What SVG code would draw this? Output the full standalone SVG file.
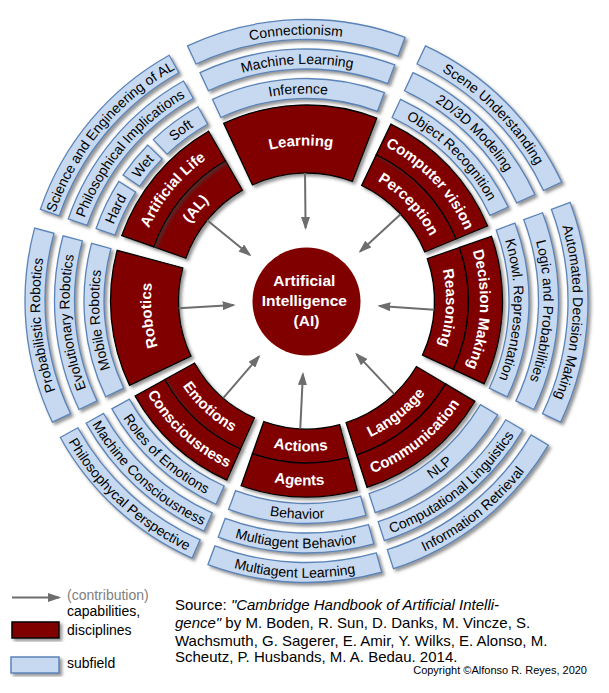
<svg xmlns="http://www.w3.org/2000/svg" xmlns:xlink="http://www.w3.org/1999/xlink" width="609" height="693" viewBox="0 0 609 693">
<style>
.r{fill:#800000;stroke:#000;stroke-width:1.3;filter:url(#sh)}
.b{fill:#c6d9f0;stroke:#5b83b7;stroke-width:1.3;filter:url(#sh)}
.rt{font-family:"Liberation Sans",Arial,sans-serif;font-weight:bold;font-size:15px;fill:#fff}
.bt{font-family:"Liberation Sans",Arial,sans-serif;font-size:14px;fill:#000}
.ar{stroke:#6d6d6d;stroke-width:2;fill:none;marker-end:url(#ah)}
.lg{font-family:"Liberation Sans",Arial,sans-serif;font-size:14px;fill:#000}
</style>
<defs>
<filter id="sh" x="-20%" y="-20%" width="140%" height="140%">
<feDropShadow dx="2.5" dy="2.5" stdDeviation="1.6" flood-color="#404040" flood-opacity="0.55"/>
</filter>
<marker id="ah" viewBox="0 0 13 9" refX="11" refY="4.5" markerWidth="13" markerHeight="9" markerUnits="userSpaceOnUse" orient="auto">
<path d="M0,0 L13,4.5 L0,9 Z" fill="#6d6d6d"/>
</marker>
<path id="t-learning" d="M240.79,160.07 A155.5,155.5 0 0 1 362.23,155.83"/>
<path id="t-cv" d="M381.24,144.31 A173.6,173.6 0 0 1 466.89,234.56"/>
<path id="t-perc" d="M366.60,175.00 A139.6,139.6 0 0 1 435.48,247.58"/>
<path id="t-dm" d="M470.34,243.63 A173.6,173.6 0 0 1 463.83,374.36"/>
<path id="t-reas" d="M438.25,254.86 A139.6,139.6 0 0 1 433.02,359.99"/>
<path id="t-comm" d="M363.48,476.38 A184.4,184.4 0 0 0 464.90,395.41"/>
<path id="t-lang" d="M352.97,444.05 A150.4,150.4 0 0 0 435.69,378.00"/>
<path id="t-agents" d="M244.95,474.82 A184.4,184.4 0 0 0 354.22,479.11"/>
<path id="t-actions" d="M256.30,442.77 A150.4,150.4 0 0 0 345.42,446.27"/>
<path id="t-cons" d="M145.22,390.40 A184.4,184.4 0 0 0 231.50,469.45"/>
<path id="t-emo" d="M174.96,373.91 A150.4,150.4 0 0 0 245.33,438.39"/>
<path id="t-rob" d="M166.15,367.94 A155.5,155.5 0 0 1 156.30,260.76"/>
<path id="t-al" d="M142.86,243.05 A173.6,173.6 0 0 1 219.70,150.66"/>
<path id="t-al2" d="M174.91,254.40 A139.6,139.6 0 0 1 236.70,180.11"/>
<path id="t-inf" d="M218.81,112.94 A207.5,207.5 0 0 1 379.17,106.63"/>
<path id="t-ml" d="M206.34,86.21 A237,237 0 0 1 389.50,79.00"/>
<path id="t-conn" d="M193.88,59.47 A266.5,266.5 0 0 1 399.83,51.37"/>
<path id="t-or" d="M394.19,112.94 A207.5,207.5 0 0 1 494.56,213.31"/>
<path id="t-mod" d="M406.66,86.21 A237,237 0 0 1 521.29,200.84"/>
<path id="t-scene" d="M419.12,59.47 A266.5,266.5 0 0 1 548.03,188.38"/>
<path id="t-kn" d="M500.87,228.33 A207.5,207.5 0 0 1 493.79,390.33"/>
<path id="t-lg" d="M528.50,218.00 A237,237 0 0 1 520.42,403.03"/>
<path id="t-au" d="M556.13,207.67 A266.5,266.5 0 0 1 547.04,415.73"/>
<path id="t-nlp" d="M373.77,508.05 A217.7,217.7 0 0 0 493.50,412.46"/>
<path id="t-cl" d="M382.88,536.11 A247.2,247.2 0 0 0 518.84,427.57"/>
<path id="t-ir" d="M392.00,564.17 A276.7,276.7 0 0 0 544.19,442.67"/>
<path id="t-beh" d="M230.26,504.92 A217.7,217.7 0 0 0 364.67,510.77"/>
<path id="t-mab" d="M219.93,532.55 A247.2,247.2 0 0 0 372.55,539.20"/>
<path id="t-mal" d="M209.60,560.19 A276.7,276.7 0 0 0 380.43,567.63"/>
<path id="t-roles" d="M116.10,406.54 A217.7,217.7 0 0 0 217.96,499.87"/>
<path id="t-mc" d="M90.30,420.84 A247.2,247.2 0 0 0 205.96,526.82"/>
<path id="t-pp" d="M64.50,435.14 A276.7,276.7 0 0 0 193.97,553.77"/>
<path id="t-mob" d="M119.21,390.33 A207.5,207.5 0 0 1 106.08,247.30"/>
<path id="t-evo" d="M92.58,403.03 A237,237 0 0 1 77.58,239.66"/>
<path id="t-prob" d="M65.96,415.73 A266.5,266.5 0 0 1 49.09,232.03"/>
<path id="t-hard" d="M110.31,233.44 A207.5,207.5 0 0 1 131.49,189.51"/>
<path id="t-wet" d="M135.50,183.47 A207.5,207.5 0 0 1 158.49,155.56"/>
<path id="t-soft" d="M163.66,150.48 A207.5,207.5 0 0 1 205.26,119.87"/>
<path id="t-pi" d="M82.42,223.83 A237,237 0 0 1 190.87,94.12"/>
<path id="t-se" d="M51.65,223.08 A266.5,266.5 0 0 1 184.68,63.97"/>
</defs>

<rect width="609" height="693" fill="#fff"/>

<g id="learning"><path class="r" d="M223.67,123.37 A196,196 0 0 1 376.75,118.01 L352.38,181.50 A128,128 0 0 0 252.41,184.99 Z"/>
<text class="rt"><textPath href="#t-learning" startOffset="50%" text-anchor="middle">Learning</textPath></text></g>

<g id="perception"><path class="r" d="M376.24,154.78 A162,162 0 0 1 456.17,239.00 L424.76,252.01 A128,128 0 0 0 361.60,185.47 Z"/>
<text class="rt"><textPath href="#t-perc" startOffset="50%" text-anchor="middle">Perception</textPath></text></g>
<g id="computer-vision"><path class="r" d="M390.88,124.09 A196,196 0 0 1 487.58,225.99 L456.17,239.00 A162,162 0 0 0 376.24,154.78 Z"/>
<text class="rt"><textPath href="#t-cv" startOffset="50%" text-anchor="middle">Computer vision</textPath></text></g>

<g id="reasoning"><path class="r" d="M459.40,247.46 A162,162 0 0 1 453.32,369.46 L422.51,355.09 A128,128 0 0 0 427.31,258.70 Z"/>
<text class="rt"><textPath href="#t-reas" startOffset="50%" text-anchor="middle">Reasoning</textPath></text></g>
<g id="decision-making"><path class="r" d="M491.48,236.22 A196,196 0 0 1 484.13,383.83 L453.32,369.46 A162,162 0 0 0 459.40,247.46 Z"/>
<text class="rt"><textPath href="#t-dm" startOffset="50%" text-anchor="middle">Decision Making</textPath></text></g>

<g id="language"><path class="r" d="M445.66,383.94 A162,162 0 0 1 356.56,455.08 L346.05,422.74 A128,128 0 0 0 416.45,366.54 Z"/>
<text class="rt"><textPath href="#t-lang" startOffset="50%" text-anchor="middle">Language</textPath></text></g>
<g id="communication"><path class="r" d="M474.86,401.35 A196,196 0 0 1 367.06,487.42 L356.56,455.08 A162,162 0 0 0 445.66,383.94 Z"/>
<text class="rt"><textPath href="#t-comm" startOffset="50%" text-anchor="middle">Communication</textPath></text></g>

<g id="actions"><path class="r" d="M348.43,457.48 A162,162 0 0 1 252.42,453.70 L263.77,421.65 A128,128 0 0 0 339.63,424.64 Z"/>
<text class="rt"><textPath href="#t-actions" startOffset="50%" text-anchor="middle">Actions</textPath></text></g>
<g id="agents"><path class="r" d="M357.22,490.32 A196,196 0 0 1 241.08,485.75 L252.42,453.70 A162,162 0 0 0 348.43,457.48 Z"/>
<text class="rt"><textPath href="#t-agents" startOffset="50%" text-anchor="middle">Agents</textPath></text></g>

<g id="emotions"><path class="r" d="M240.61,448.99 A162,162 0 0 1 164.81,379.54 L194.55,363.05 A128,128 0 0 0 254.44,417.93 Z"/>
<text class="rt"><textPath href="#t-emo" startOffset="50%" text-anchor="middle">Emotions</textPath></text></g>
<g id="consciousness"><path class="r" d="M226.79,480.05 A196,196 0 0 1 135.08,396.02 L164.81,379.54 A162,162 0 0 0 240.61,448.99 Z"/>
<text class="rt"><textPath href="#t-cons" startOffset="50%" text-anchor="middle">Consciousness</textPath></text></g>

<g id="robotics"><path class="r" d="M129.59,385.38 A196,196 0 0 1 117.18,250.28 L182.86,267.87 A128,128 0 0 0 190.97,356.10 Z"/>
<text class="rt"><textPath href="#t-rob" startOffset="50%" text-anchor="middle">Robotics</textPath></text></g>

<g id="al"><path class="r" d="M153.80,246.92 A162,162 0 0 1 225.50,160.71 L242.50,190.15 A128,128 0 0 0 185.85,258.27 Z"/>
<text class="rt"><textPath href="#t-al2" startOffset="50%" text-anchor="middle">(AL)</textPath></text></g>
<g id="artificial-life"><path class="r" d="M121.75,235.58 A196,196 0 0 1 208.50,131.26 L225.50,160.71 A162,162 0 0 0 153.80,246.92 Z"/>
<text class="rt"><textPath href="#t-al" startOffset="50%" text-anchor="middle">Artificial Life</textPath></text></g>

<g id="inference"><path class="b" d="M212.47,99.35 A222.5,222.5 0 0 1 384.42,92.58 L377.42,111.32 A202.5,202.5 0 0 0 220.92,117.47 Z"/>
<text class="bt"><textPath href="#t-inf" startOffset="50%" text-anchor="middle">Inference</textPath></text></g>
<g id="machine-learning"><path class="b" d="M200.00,72.61 A252,252 0 0 1 394.75,64.95 L387.75,83.69 A232,232 0 0 0 208.46,90.74 Z"/>
<text class="bt"><textPath href="#t-ml" startOffset="50%" text-anchor="middle">Machine Learning</textPath></text></g>
<g id="connectionism"><path class="b" d="M187.54,45.88 A281.5,281.5 0 0 1 405.08,37.32 L398.08,56.05 A261.5,261.5 0 0 0 195.99,64.00 Z"/>
<text class="bt"><textPath href="#t-conn" startOffset="50%" text-anchor="middle">Connectionism</textPath></text></g>

<g id="object-recognition"><path class="b" d="M400.53,99.35 A222.5,222.5 0 0 1 508.15,206.97 L490.03,215.42 A202.5,202.5 0 0 0 392.08,117.47 Z"/>
<text class="bt"><textPath href="#t-or" startOffset="50%" text-anchor="middle">Object Recognition</textPath></text></g>
<g id="modeling-2d3d"><path class="b" d="M413.00,72.61 A252,252 0 0 1 534.89,194.50 L516.76,202.96 A232,232 0 0 0 404.54,90.74 Z"/>
<text class="bt"><textPath href="#t-mod" startOffset="50%" text-anchor="middle">2D/3D Modeling</textPath></text></g>
<g id="scene-understanding"><path class="b" d="M425.46,45.88 A281.5,281.5 0 0 1 561.62,182.04 L543.50,190.49 A261.5,261.5 0 0 0 417.01,64.00 Z"/>
<text class="bt"><textPath href="#t-scene" startOffset="50%" text-anchor="middle">Scene Understanding</textPath></text></g>

<g id="knowl-representation"><path class="b" d="M514.92,223.08 A222.5,222.5 0 0 1 507.33,396.79 L489.28,388.18 A202.5,202.5 0 0 0 496.18,230.08 Z"/>
<text class="bt"><textPath href="#t-kn" startOffset="50%" text-anchor="middle">Knowl. Representation</textPath></text></g>
<g id="logic-probabilities"><path class="b" d="M542.55,212.75 A252,252 0 0 1 533.96,409.49 L515.90,400.88 A232,232 0 0 0 523.81,219.75 Z"/>
<text class="bt"><textPath href="#t-lg" startOffset="50%" text-anchor="middle">Logic and Probabilities</textPath></text></g>
<g id="automated-decision-making"><path class="b" d="M570.18,202.42 A281.5,281.5 0 0 1 560.58,422.19 L542.53,413.58 A261.5,261.5 0 0 0 551.45,209.42 Z"/>
<text class="bt"><textPath href="#t-au" startOffset="50%" text-anchor="middle">Automated Decision Making</textPath></text></g>

<g id="nlp"><path class="b" d="M497.63,414.92 A222.5,222.5 0 0 1 375.25,512.62 L369.07,493.60 A202.5,202.5 0 0 0 480.45,404.68 Z"/>
<text class="bt"><textPath href="#t-nlp" startOffset="50%" text-anchor="middle">NLP</textPath></text></g>
<g id="computational-linguistics"><path class="b" d="M522.97,430.02 A252,252 0 0 1 384.37,540.68 L378.19,521.66 A232,232 0 0 0 505.79,419.78 Z"/>
<text class="bt"><textPath href="#t-cl" startOffset="50%" text-anchor="middle">Computational Linguistics</textPath></text></g>
<g id="information-retrieval"><path class="b" d="M548.31,445.13 A281.5,281.5 0 0 1 393.48,568.73 L387.30,549.71 A261.5,261.5 0 0 0 531.13,434.89 Z"/>
<text class="bt"><textPath href="#t-ir" startOffset="50%" text-anchor="middle">Information Retrieval</textPath></text></g>

<g id="behavior"><path class="b" d="M365.95,515.40 A222.5,222.5 0 0 1 228.58,509.42 L235.58,490.68 A202.5,202.5 0 0 0 360.61,496.13 Z"/>
<text class="bt"><textPath href="#t-beh" startOffset="50%" text-anchor="middle">Behavior</textPath></text></g>
<g id="multiagent-behavior"><path class="b" d="M373.83,543.83 A252,252 0 0 1 218.25,537.05 L225.25,518.31 A232,232 0 0 0 368.49,524.56 Z"/>
<text class="bt"><textPath href="#t-mab" startOffset="50%" text-anchor="middle">Multiagent Behavior</textPath></text></g>
<g id="multiagent-learning"><path class="b" d="M381.72,572.25 A281.5,281.5 0 0 1 207.92,564.68 L214.92,545.95 A261.5,261.5 0 0 0 376.37,552.98 Z"/>
<text class="bt"><textPath href="#t-mal" startOffset="50%" text-anchor="middle">Multiagent Learning</textPath></text></g>

<g id="roles-of-emotions"><path class="b" d="M216.01,504.25 A222.5,222.5 0 0 1 111.90,408.87 L129.39,399.17 A202.5,202.5 0 0 0 224.14,485.98 Z"/>
<text class="bt"><textPath href="#t-roles" startOffset="50%" text-anchor="middle">Roles of Emotions</textPath></text></g>
<g id="machine-consciousness"><path class="b" d="M204.01,531.20 A252,252 0 0 1 86.10,423.17 L103.59,413.47 A232,232 0 0 0 212.15,512.93 Z"/>
<text class="bt"><textPath href="#t-mc" startOffset="50%" text-anchor="middle">Machine Consciousness</textPath></text></g>
<g id="philosophycal-perspective"><path class="b" d="M192.01,558.15 A281.5,281.5 0 0 1 60.30,437.47 L77.79,427.78 A261.5,261.5 0 0 0 200.15,539.88 Z"/>
<text class="bt"><textPath href="#t-pp" startOffset="50%" text-anchor="middle">Philosophycal Perspective</textPath></text></g>

<g id="mobile-robotics"><path class="b" d="M105.67,396.79 A222.5,222.5 0 0 1 91.59,243.42 L110.91,248.59 A202.5,202.5 0 0 0 123.72,388.18 Z"/>
<text class="bt"><textPath href="#t-mob" startOffset="50%" text-anchor="middle">Mobile Robotics</textPath></text></g>
<g id="evolutionary-robotics"><path class="b" d="M79.04,409.49 A252,252 0 0 1 63.09,235.78 L82.41,240.96 A232,232 0 0 0 97.10,400.88 Z"/>
<text class="bt"><textPath href="#t-evo" startOffset="50%" text-anchor="middle">Evolutionary Robotics</textPath></text></g>
<g id="probabilistic-robotics"><path class="b" d="M52.42,422.19 A281.5,281.5 0 0 1 34.60,228.15 L53.92,233.32 A261.5,261.5 0 0 0 70.47,413.58 Z"/>
<text class="bt"><textPath href="#t-prob" startOffset="50%" text-anchor="middle">Probabilistic Robotics</textPath></text></g>

<g id="hard"><path class="b" d="M96.13,228.55 A222.5,222.5 0 0 1 118.84,181.45 L135.71,192.20 A202.5,202.5 0 0 0 115.04,235.07 Z"/>
<text class="bt"><textPath href="#t-hard" startOffset="50%" text-anchor="middle">Hard</textPath></text></g>
<g id="wet"><path class="b" d="M123.14,174.98 A222.5,222.5 0 0 1 147.79,145.05 L162.06,159.07 A202.5,202.5 0 0 0 139.62,186.30 Z"/>
<text class="bt"><textPath href="#t-wet" startOffset="50%" text-anchor="middle">Wet</textPath></text></g>
<g id="soft"><path class="b" d="M153.33,139.60 A222.5,222.5 0 0 1 197.94,106.78 L207.70,124.24 A202.5,202.5 0 0 0 167.10,154.11 Z"/>
<text class="bt"><textPath href="#t-soft" startOffset="50%" text-anchor="middle">Soft</textPath></text></g>
<g id="philosophical-implications"><path class="b" d="M68.23,218.95 A252,252 0 0 1 183.55,81.03 L193.31,98.49 A232,232 0 0 0 87.14,225.46 Z"/>
<text class="bt"><textPath href="#t-pi" startOffset="50%" text-anchor="middle">Philosophical Implications</textPath></text></g>
<g id="science-engineering-al"><path class="b" d="M40.34,209.34 A281.5,281.5 0 0 1 169.16,55.28 L178.91,72.74 A261.5,261.5 0 0 0 59.25,215.86 Z"/>
<text class="bt"><textPath href="#t-se" startOffset="50%" text-anchor="middle">Science and Engineering of AL</textPath></text></g>

<g id="ai">
<circle cx="306.5" cy="301.5" r="54" fill="#800000"/>
<text font-family="'Liberation Sans',Arial,sans-serif" font-weight="bold" font-size="15.5" fill="#fff" text-anchor="middle">
<tspan x="306.5" y="285.5">Artificial</tspan>
<tspan x="306.5" y="305.5">Intelligence</tspan>
<tspan x="306.5" y="325.5">(AI)</tspan>
</text>
</g>

<g id="connectors">
<line class="ar" x1="305" y1="173" x2="305.6" y2="228"/>
<line class="ar" x1="400.57" y1="214.19" x2="360.15" y2="251.49"/>
<line class="ar" x1="434.21" y1="309.70" x2="379.33" y2="305.96"/>
<line class="ar" x1="394.28" y1="394.16" x2="356.56" y2="354.13"/>
<line class="ar" x1="300.25" y1="428.85" x2="302.94" y2="373.91"/>
<line class="ar" x1="223.20" y1="398.19" x2="258.99" y2="356.43"/>
<line class="ar" x1="178.70" y1="308.14" x2="233.62" y2="305.07"/>
<line class="ar" x1="207.17" y1="220.27" x2="249.85" y2="254.96"/>
</g>

<g id="legend">
<line class="ar" x1="12" y1="597.5" x2="59" y2="597.5"/>
<text class="lg" x="67" y="600" style="fill:#808080">(contribution)</text>
<rect x="12" y="622" width="47" height="16" fill="#800000" stroke="#000" stroke-width="1.5" filter="url(#sh)"/>
<text class="lg" x="67" y="616">capabilities,</text>
<text class="lg" x="67" y="634.5">disciplines</text>
<rect x="11" y="657" width="48" height="16" fill="#c6d9f0" stroke="#5b83b7" stroke-width="1.5" filter="url(#sh)"/>
<text class="lg" x="67" y="668">subfield</text>
</g>

<g id="source" font-family="'Liberation Sans',Arial,sans-serif" font-size="15" fill="#000">
<text x="175" y="610">Source: <tspan font-style="italic">"Cambridge Handbook of Artificial Intelli-</tspan></text>
<text x="175" y="628"><tspan font-style="italic">gence"</tspan> by M. Boden, R. Sun, D. Danks, M. Vincze, S.</text>
<text x="175" y="645.5">Wachsmuth, G. Sagerer, E. Amir, Y. Wilks, E. Alonso, M.</text>
<text x="175" y="661.5">Scheutz, P. Husbands, M. A. Bedau. 2014.</text>
<text x="587" y="674" font-size="11" text-anchor="end">Copyright ©Alfonso R. Reyes, 2020</text>
</g>
</svg>
